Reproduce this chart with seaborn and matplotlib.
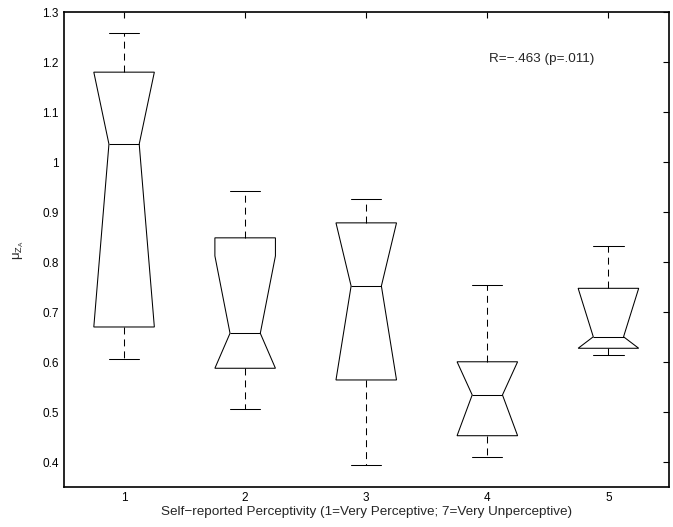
import numpy as np
import pandas as pd
import matplotlib
matplotlib.use("Agg")
import matplotlib.pyplot as plt
from matplotlib.ticker import FormatStrFormatter
import seaborn as sns

# values per perceptivity group
group1 = [0.607, 0.6706, 1.0366, 1.1806, 1.258]
group2 = [0.5066, 0.571, 0.605, 0.658, 0.823, 0.875, 0.9426]
group3 = [0.3946, 0.5377, 0.6452, 0.86, 0.8853, 0.926]
group4 = [0.41, 0.44, 0.492, 0.5772, 0.6089, 0.7546]
group5 = [0.6146, 0.628, 0.651, 0.748, 0.8326]
groups = [1, 2, 3, 4, 5]
y_ticks = [0.4, 0.5, 0.6, 0.7, 0.8, 0.9, 1.0, 1.1, 1.2, 1.3]

xlabel = "Self\u2212reported Perceptivity (1=Very Perceptive; 7=Very Unperceptive)"
note = "R=\u2212.463 (p=.011)"

all_groups = [group1, group2, group3, group4, group5]
df = pd.DataFrame({
    "group": np.concatenate([[g] * len(v) for g, v in zip(groups, all_groups)]),
    "value": np.concatenate(all_groups),
})

sns.set_style("white")
plt.rcParams['font.family'] = ['Liberation Sans', 'DejaVu Sans']
plt.rcParams['mathtext.fontset'] = 'custom'
plt.rcParams['mathtext.rm'] = 'Liberation Sans'
plt.rcParams['mathtext.it'] = 'Liberation Sans'
plt.rcParams['mathtext.default'] = 'regular'
plt.rcParams['lines.scale_dashes'] = False

fig = plt.figure(figsize=(6.73, 5.27), dpi=100)
ax = fig.add_axes([0.0944, 0.0765, 0.8996, 0.8998])

lw = 0.75
sns.boxplot(data=df, x="group", y="value", native_scale=True, notch=True,
            width=0.5, color="white", linecolor="black", linewidth=lw,
            saturation=1, whis=1.5, showfliers=False, ax=ax,
            whiskerprops=dict(linestyle=(0, (5, 3.6)), linewidth=lw),
            capprops=dict(linestyle="-", linewidth=lw),
            medianprops=dict(color="black", linewidth=lw))

# matlab clips the notch to the box: pull notch ends back to the quartiles
# (ends that fall just short of the box edge are snapped onto it too)
tol = 0.015
for patch, vals in zip(ax.patches, all_groups):
    q1, q3 = np.percentile(vals, [25, 75])
    verts = patch.get_path().vertices
    y = verts[:, 1]
    y[(y > q3 - tol) & (y < q3)] = q3
    y[(y < q1 + tol) & (y > q1)] = q1
    verts[:, 1] = np.clip(y, q1, q3)

ax.set_xlim(0.5, 5.5)
ax.set_ylim(0.351, 1.3)
ax.set_xticks(groups)
ax.set_xticklabels([str(g) for g in groups])
ax.set_yticks(y_ticks)
ax.yaxis.set_major_formatter(FormatStrFormatter('%g'))
ax.tick_params(direction='in', top=True, right=True, length=4.3, width=0.8,
               labelsize=8.5, pad=3.5, colors='black')
for s in ax.spines.values():
    s.set_visible(True)
    s.set_color('black')
    s.set_linewidth(1.2)

ax.set_xlabel(xlabel, fontsize=9.7, labelpad=2)
ax.set_ylabel(r'$\mu_{Z_A}$', fontsize=9.5, labelpad=12)
ax.text(4.014, 1.2066, note, fontsize=9.7, ha='left', va='center')

fig.savefig("out.png", dpi=100)
